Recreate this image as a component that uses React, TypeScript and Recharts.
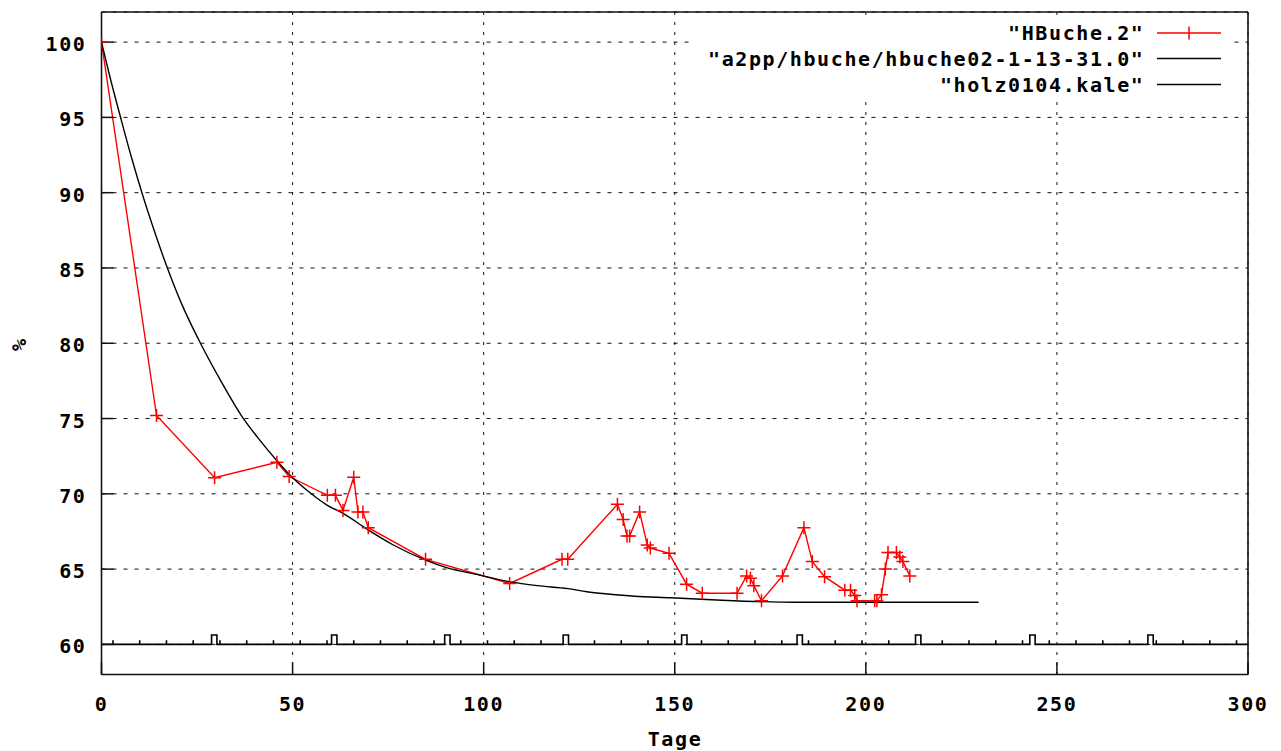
import React from 'react';
import { LineChart, Line, XAxis, YAxis, CartesianGrid, Legend } from 'recharts';

// ---- axes ----
const xTicks = [0, 50, 100, 150, 200, 250, 300];
const xTicksInner = [50, 100, 150, 200, 250];
const yTicks = [60, 65, 70, 75, 80, 85, 90, 95, 100];
const yTicksInner = [65, 70, 75, 80, 85, 90, 95, 100];
const xDomain = [0, 300];
const yDomain = [58, 102];
const xTitle = 'Tage';
const yTitle = '%';

// ---- series 1: "HBuche.2" (measured points) ----
const hbucheDays = [0, 14.4, 29.6, 45.9, 49.1, 59.1, 61.2, 63.2, 66.0, 67.1, 68.4, 69.8, 84.8, 106.8, 120.5, 122.0, 135.0, 136.5, 137.5, 138.2, 140.8, 142.8, 143.6, 148.5, 153.1, 157.2, 166.3, 168.8, 169.8, 170.7, 172.7, 178.2, 183.8, 186.0, 189.2, 194.5, 196.0, 197.1, 197.7, 202.3, 202.9, 204.1, 205.1, 205.8, 208.0, 208.9, 209.7, 211.5];
const hbucheValues = [100, 75.2, 71.07, 72.1, 71.15, 69.9, 69.9, 68.9, 71.1, 68.8, 68.8, 67.75, 65.65, 64.05, 65.65, 65.65, 69.3, 68.3, 67.2, 67.2, 68.8, 66.6, 66.4, 66.05, 64.0, 63.4, 63.4, 64.55, 64.4, 63.9, 62.9, 64.55, 67.75, 65.5, 64.5, 63.6, 63.6, 63.25, 62.9, 62.9, 62.9, 63.3, 65.0, 66.1, 66.1, 65.8, 65.5, 64.55];

// ---- series 2: "a2pp/hbuche/hbuche02-1-13-31.0" (simulation curve) ----
const simDays = [0, 2, 5.2, 8, 10.7, 13.5, 16.8, 21, 26.3, 31, 36.6, 41, 45.9, 49.1, 54.9, 59, 63.2, 69.8, 76, 84.8, 90.3, 99, 107, 114, 122, 127, 132.5, 139.5, 149, 161, 181.5, 229.5];
const simValues = [100, 97.9, 94.8, 92.2, 89.9, 87.7, 85.3, 82.6, 79.8, 77.6, 75.2, 73.7, 72.2, 71.3, 70.0, 69.25, 68.7, 67.6, 66.65, 65.6, 65.1, 64.6, 64.15, 63.9, 63.7, 63.5, 63.35, 63.2, 63.1, 62.95, 62.8, 62.8];

// ---- series 3: "holz0104.kale" (calendar marker line) ----
const kaleStart = 0;
const kaleEnd = 300;
const kaleBase = 60;
const kaleWeekLevel = 60.27;
const kaleMonthLevel = 60.62;
const kaleMonthWidth = 1.4;
const kaleWeekTicks = [3, 10, 17, 24, 31, 38, 45, 52, 59, 66, 73, 80, 87, 94, 101, 108, 115, 122, 129, 136, 143, 150, 157, 164, 171, 178, 185, 192, 199, 206, 213, 220, 227, 234, 241, 248, 255, 262, 269, 276, 283, 290, 297];
const kaleMonthMarks = [28.8, 60.2, 89.8, 120.8, 151.8, 182.0, 213.0, 242.9, 273.8];

const legendLabels = ['"HBuche.2"', '"a2pp/hbuche/hbuche02-1-13-31.0"', '"holz0104.kale"'];
const legendColors = ['#ff0000', '#000000', '#000000'];

// ---- tables built from the arrays ----
const hbucheData = hbucheDays.map((x, i) => ({ x, y: hbucheValues[i] }));
const simData = simDays.map((x, i) => ({ x, y: simValues[i] }));

function buildKale() {
  const insideMonth = (w: number) => kaleMonthMarks.some((m) => w > m && w < m + kaleMonthWidth);
  const events: { x: number; ys: number[] }[] = [];
  kaleWeekTicks
    .filter((w) => !insideMonth(w))
    .forEach((w) => events.push({ x: w, ys: [kaleBase, kaleWeekLevel, kaleBase] }));
  kaleMonthMarks.forEach((m) => {
    events.push({ x: m, ys: [kaleBase, kaleMonthLevel] });
    events.push({ x: m + kaleMonthWidth, ys: [kaleMonthLevel, kaleBase] });
  });
  events.sort((a, b) => a.x - b.x);
  const pts: { x: number; y: number }[] = [{ x: kaleStart, y: kaleBase }];
  events.forEach((e) => e.ys.forEach((y) => pts.push({ x: e.x, y })));
  pts.push({ x: kaleEnd, y: kaleBase });
  return pts;
}
const kaleData = buildKale();

const FONT = "'DejaVu Sans Mono', 'Liberation Mono', monospace";
const textStyle: React.CSSProperties = {
  fontFamily: FONT,
  fontSize: 20,
  fontWeight: 'bold',
  letterSpacing: '1.6px',
};

const XTick = (props: any) => (
  <text x={props.x} y={props.y + 14} textAnchor="middle" fill="#000" style={textStyle}>
    {props.payload.value}
  </text>
);

const YTick = (props: any) => (
  <text x={props.x} y={props.y + 9} textAnchor="end" fill="#000" style={textStyle}>
    {props.payload.value}
  </text>
);

const XTitle = (_: any) => (
  <text x={675} y={746} textAnchor="middle" fill="#000" style={textStyle}>
    {xTitle}
  </text>
);

const YTitle = (_: any) => (
  <text
    x={19}
    y={345}
    transform="rotate(-90 19 345)"
    textAnchor="middle"
    dominantBaseline="central"
    fill="#000"
    style={{ ...textStyle, letterSpacing: 0 }}
  >
    {yTitle}
  </text>
);

const plusDot = (p: any) => {
  if (p.cx == null || p.cy == null) return <g key={`d-${p.index}`} />;
  return (
    <path
      key={`d-${p.index}`}
      d={`M${p.cx - 6.5},${p.cy}h13M${p.cx},${p.cy - 6.5}v13`}
      stroke="#ff0000"
      strokeWidth={1.5}
      fill="none"
    />
  );
};

const rowCenters = [33, 58.5, 84.5];

const LegendBox = () => (
  <svg width={1281} height={100} style={{ display: 'block', pointerEvents: 'none' }}>
    <rect x={693} y={21} width={539} height={76} fill="#ffffff" />
    {legendLabels.map((label, i) => (
      <g key={label}>
        <text x={1144.5} y={rowCenters[i] + 7.3} textAnchor="end" fill="#000" style={textStyle}>
          {label}
        </text>
        <line x1={1157} x2={1221} y1={rowCenters[i]} y2={rowCenters[i]} stroke={legendColors[i]} strokeWidth={1.5} />
        {i === 0 && (
          <line x1={1189} x2={1189} y1={rowCenters[i] - 6.5} y2={rowCenters[i] + 6.5} stroke={legendColors[i]} strokeWidth={1.5} />
        )}
      </g>
    ))}
  </svg>
);

export default function App() {
  return (
    <div style={{ position: 'absolute', left: 0, top: 0, width: 1281, height: 751, background: '#fff' }}>
      <LineChart width={1281} height={751} margin={{ top: 0, right: 0, bottom: 0, left: 0 }}>
        <CartesianGrid horizontal vertical={false} stroke="#111" strokeWidth={1} strokeDasharray="4 7" />
        <CartesianGrid horizontal={false} vertical stroke="#111" strokeWidth={1} strokeDasharray="3 7" />
        <XAxis
          xAxisId={0}
          type="number"
          dataKey="x"
          domain={xDomain}
          ticks={xTicks}
          interval={0}
          allowDataOverflow
          height={76.5}
          orientation="bottom"
          tickSize={-12}
          tickMargin={34}
          tick={XTick}
          axisLine={{ stroke: '#111', strokeWidth: 1.6 }}
          tickLine={{ stroke: '#111', strokeWidth: 1.5 }}
          label={<XTitle />}
        />
        <XAxis
          xAxisId="top"
          type="number"
          dataKey="x"
          domain={xDomain}
          ticks={xTicksInner}
          interval={0}
          allowDataOverflow
          height={12}
          orientation="top"
          tickSize={-12}
          tick={false}
          axisLine={{ stroke: '#111', strokeWidth: 1.6 }}
          tickLine={{ stroke: '#111', strokeWidth: 1.5 }}
        />
        <YAxis
          yAxisId={0}
          type="number"
          domain={yDomain}
          ticks={yTicks}
          interval={0}
          allowDataOverflow
          width={101.5}
          orientation="left"
          tickSize={-12}
          tickMargin={27}
          tick={YTick}
          axisLine={{ stroke: '#111', strokeWidth: 1.6 }}
          tickLine={{ stroke: '#111', strokeWidth: 1.5 }}
          label={<YTitle />}
        />
        <YAxis
          yAxisId="right"
          type="number"
          domain={yDomain}
          ticks={yTicksInner}
          interval={0}
          allowDataOverflow
          width={33}
          orientation="right"
          tickSize={-12}
          tick={false}
          axisLine={{ stroke: '#111', strokeWidth: 1.6 }}
          tickLine={{ stroke: '#111', strokeWidth: 1.5 }}
        />
        <Legend
          layout="vertical"
          align="center"
          verticalAlign="middle"
          content={() => <LegendBox />}
          wrapperStyle={{ position: 'absolute', left: 0, top: 0, width: 1281, height: 100, margin: 0, padding: 0 }}
        />
        <Line
          data={hbucheData}
          dataKey="y"
          name={legendLabels[0]}
          type="linear"
          stroke="#ff0000"
          strokeWidth={1.4}
          dot={plusDot}
          activeDot={false}
          isAnimationActive={false}
        />
        <Line
          data={simData}
          dataKey="y"
          name={legendLabels[1]}
          type="monotone"
          stroke="#000"
          strokeWidth={1.4}
          dot={false}
          activeDot={false}
          isAnimationActive={false}
        />
        <Line
          data={kaleData}
          dataKey="y"
          name={legendLabels[2]}
          type="linear"
          stroke="#000"
          strokeWidth={1.6}
          strokeLinejoin="miter"
          dot={false}
          activeDot={false}
          isAnimationActive={false}
        />
      </LineChart>
    </div>
  );
}
